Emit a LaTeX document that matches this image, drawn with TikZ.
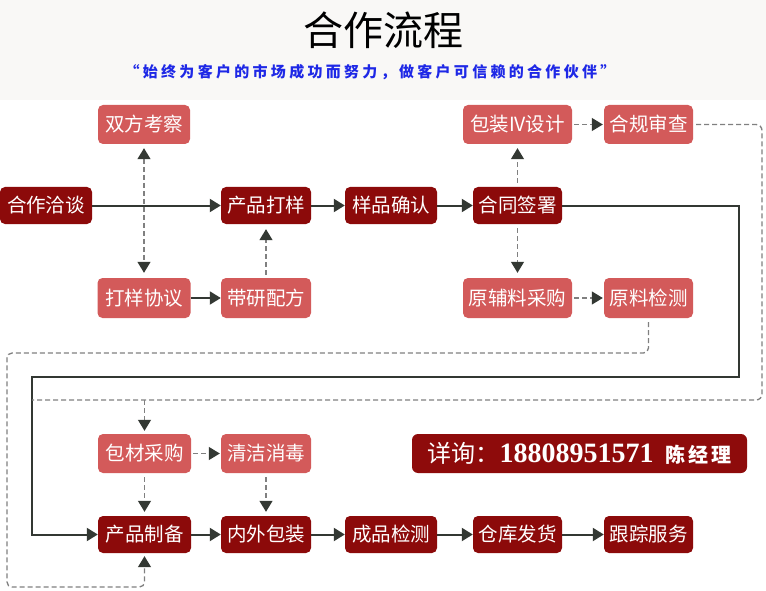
\documentclass[tikz,border=0pt]{standalone}
\usepackage{fontspec}
\setmainfont{Liberation Serif}
\newfontfamily\cjk{Noto Sans CJK SC}
\newfontfamily\cjksub[LetterSpace=22]{Noto Sans CJK SC}
\newfontfamily\cjkname[LetterSpace=14]{Noto Sans CJK SC}
\usetikzlibrary{arrows.meta}
\definecolor{lightred}{HTML}{D35A5A}
\definecolor{darkred}{HTML}{8C0A0A}
\definecolor{boxred}{HTML}{8E0B0B}
\definecolor{linec}{HTML}{333833}
\definecolor{dashc}{HTML}{808080}
\definecolor{subblue}{HTML}{1E28E6}
\definecolor{bandc}{HTML}{F9F8F6}
\begin{document}
\begin{tikzpicture}[x=1pt,y=-1pt,
  box/.style={rounded corners=5pt, text=white, font=\cjk\fontsize{19.5}{19.5}\selectfont,
    inner sep=0pt, minimum height=38pt, minimum width=90pt},
  lbox/.style={box, fill=lightred},
  dbox/.style={box, fill=darkred},
  tip/.style={-{Triangle[length=11pt,width=13pt,color=linec,fill=linec]}},
  tipboth/.style={{Triangle[length=11pt,width=13pt,color=linec,fill=linec]}-{Triangle[length=11pt,width=13pt,color=linec,fill=linec]}},
  sline/.style={draw=linec, line width=2pt},
  dline/.style={draw=dashc, line width=1.3pt, dash pattern=on 5pt off 3pt},
]
\useasboundingbox (0,0) rectangle (766,591);
\fill[white] (0,0) rectangle (766,591);
\fill[bandc] (0,0) rectangle (766,100);

% titles
\node (title) at (383,30) {\cjk\fontsize{40}{40}\selectfont 合作流程};
\node[text=subblue] (sub) at (370,72) {\cjksub\bfseries\fontsize{15}{15}\selectfont “始终为客户的市场成功而努力，做客户可信赖的合作伙伴”};

% nodes
\node[lbox, minimum width=92pt, minimum height=39pt] (khqt) at (144,124.5) {双方考察};
\node[dbox, minimum width=92pt, minimum height=37pt] (htqt) at (46,205.5) {合作洽谈};
\node[dbox, minimum width=90pt, minimum height=37pt] (cpdy) at (266,205.5) {产品打样};
\node[dbox, minimum width=92pt, minimum height=37pt] (ypqr) at (391,205.5) {样品确认};
\node[dbox, minimum width=89pt, minimum height=37pt] (htqs) at (517.5,205.5) {合同签署};
\node[lbox, minimum width=109pt, minimum height=39pt] (bzsj) at (517.5,124.5) {包装IV设计};
\node[lbox, minimum width=89pt, minimum height=39pt] (hgsc) at (648.5,124.5) {合规审查};
\node[lbox, minimum width=109pt, minimum height=40pt] (yfl) at (517.5,298) {原辅料采购};
\node[lbox, minimum width=89pt, minimum height=40pt] (ljc) at (648.5,298) {原料检测};
\node[lbox, minimum width=93pt, minimum height=40pt] (dyxy) at (144,298) {打样协议};
\node[lbox, minimum width=90pt, minimum height=40pt] (dypf) at (266,298) {带研配方};
\node[lbox, minimum width=93pt, minimum height=39pt] (bccg) at (144.5,453.5) {包材采购};
\node[lbox, minimum width=90pt, minimum height=39pt] (qjxd) at (266,453.5) {清洁消毒};
\node[dbox, minimum width=93pt, minimum height=37pt] (cpzb) at (144.5,534.5) {产品制备};
\node[dbox, minimum width=90pt, minimum height=37pt] (nwbz) at (266,534.5) {内外包装};
\node[dbox, minimum width=92pt, minimum height=37pt] (cpjc) at (391,534.5) {成品检测};
\node[dbox, minimum width=89pt, minimum height=37pt] (ckfh) at (517.5,534.5) {仓库发货};
\node[dbox, minimum width=89pt, minimum height=37pt] (gzfw) at (648.5,534.5) {跟踪服务};

\node[fill=boxred, rounded corners=6pt, minimum width=335pt, minimum height=39pt,
  inner sep=0pt, text=white] (contact) at (579.5,453.5)
  {{\cjk\fontsize{24}{24}\selectfont 详询：}{\bfseries\fontsize{28}{28}\selectfont 18808951571}\hspace{12pt}{\cjkname\bfseries\fontsize{20}{20}\selectfont 陈经理}};

% solid connectors
\draw[sline,tip] (htqt) -- (cpdy);
\draw[sline,tip] (cpdy) -- (ypqr);
\draw[sline,tip] (ypqr) -- (htqs);
\draw[sline,tip] (dyxy) -- (dypf);
\draw[sline,tip] (cpzb) -- (nwbz);
\draw[sline,tip] (nwbz) -- (cpjc);
\draw[sline,tip] (cpjc) -- (ckfh);
\draw[sline,tip] (ckfh) -- (gzfw);

\coordinate (sA) at (739,377);
\coordinate (sB) at (32,377);
\draw[sline,tip] (htqs.east) -| (sA) -- (sB) |- (cpzb.west);

% dashed connectors
\draw[dline,tipboth,shorten <=4pt,shorten >=5pt] (khqt.south) -- (dyxy.north);
\draw[dline,tip,shorten <=3pt,shorten >=5pt] (dypf.north) -- (cpdy.south);
\draw[dline,tip,shorten <=4pt,shorten >=4pt] (htqs.north) -- (bzsj.south);
\draw[dline,tip,shorten <=4pt,shorten >=5pt] (htqs.south) -- (yfl.north);
\draw[dline,tip,shorten <=2pt,shorten >=1pt] (bzsj) -- (hgsc);
\draw[dline,tip,shorten <=2pt,shorten >=1pt] (yfl) -- (ljc);
\draw[dline,tip,shorten <=2pt,shorten >=1pt] (bccg) -- (qjxd);
\draw[dline,tip,shorten <=4pt,shorten >=4pt] (bccg.south) -- (cpzb.north);
\draw[dline,tip,shorten <=4pt,shorten >=4pt] (qjxd.south) -- (nwbz.north);

\coordinate (dA) at (762,400);
\coordinate (dB) at (32,400);
\coordinate (dC) at (bccg.north |- dA);
\draw[dline,rounded corners=6pt,shorten <=3pt] (hgsc.east) -| (dA) -- (dB);
\draw[dline,tip,shorten >=3pt] (dC) -- (bccg.north);

\coordinate (eB) at (7,353);
\coordinate (eA) at (ljc.south |- eB);
\coordinate (eC) at (7,587);
\coordinate (eD) at (cpzb.south |- eC);
\draw[dline,tip,rounded corners=5pt,shorten <=4pt,shorten >=3pt]
  (ljc.south) -- (eA) -- (eB) -- (eC) -- (eD) -- (cpzb.south);
\end{tikzpicture}
\end{document}
